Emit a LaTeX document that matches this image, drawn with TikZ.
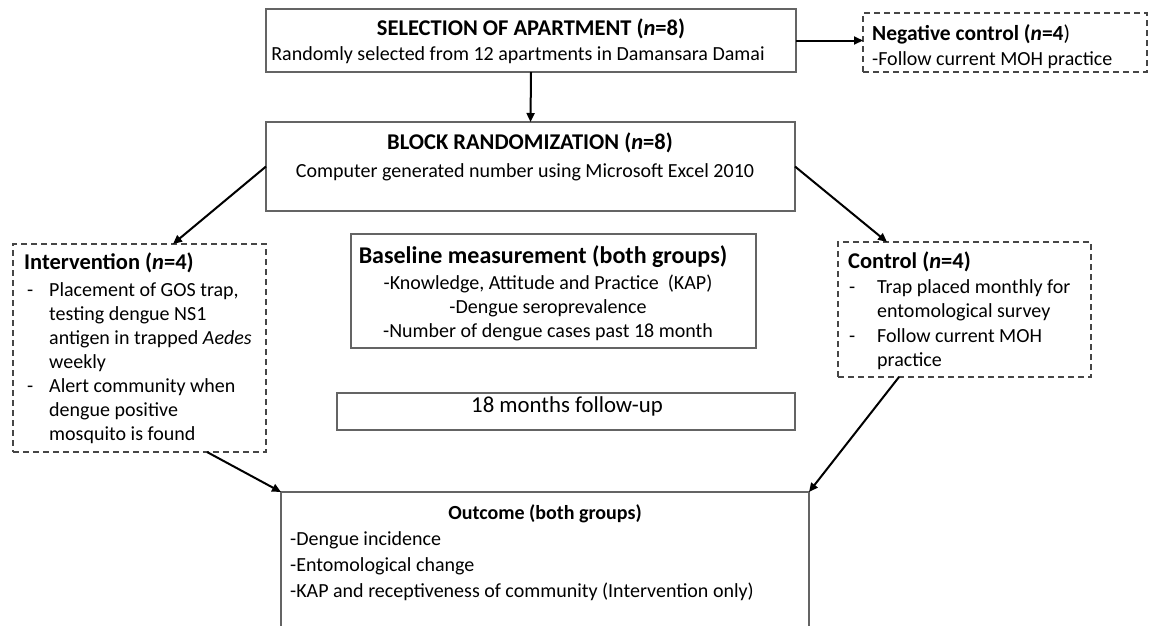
\documentclass[tikz,border=0pt]{standalone}
\usepackage{fontspec}
\setmainfont{Carlito}
\usetikzlibrary{fit,arrows.meta,calc}
\definecolor{boxgray}{RGB}{100,100,100}
\definecolor{dashgray}{RGB}{70,70,70}
\tikzset{
  box/.style={draw=boxgray, line width=1.2pt, inner sep=0pt, outer sep=0pt},
  dbox/.style={box, draw=dashgray, dash pattern=on 6pt off 4pt},
  arr/.style={line width=2pt, -{Triangle[length=9pt,width=8pt]}},
  tx/.style={inner sep=0pt, font=\fontsize{20}{24}\selectfont},
  hd/.style={inner sep=0pt, font=\fontsize{22.5}{27}\selectfont\bfseries},
}
\begin{document}
\begin{tikzpicture}[x=1pt,y=-1pt]
\useasboundingbox (0,0) rectangle (1157,625);
\fill[white] (0,0) rectangle (1157,625);
\clip (0,0) rectangle (1157,625);

% boxes
\node[box,  fit={(266,9) (796,72)}]    (sel)  {};
\node[dbox, fit={(863,13) (1147,72)}]  (neg)  {};
\node[box,  fit={(266,122) (795,211)}] (blk)  {};
\node[box,  fit={(351,234) (756,348)}] (base) {};
\node[box,  fit={(337,393) (795,430)}] (fu)   {};
\node[dbox, fit={(13,244) (266,452)}]  (int)  {};
\node[dbox, fit={(838,242) (1091,377)}] (ctl) {};
\node[box,  fit={(281,492) (809,680)}] (out)  {};

% selection
\node[hd, anchor=base] (selH) at (531,35) {SELECTION OF APARTMENT (\textit{n}=8)};
\node[tx, anchor=base] (selT) at (518,60) {Randomly selected from 12 apartments in Damansara Damai};

% negative control
\node[hd, font=\fontsize{21.5}{26}\selectfont\bfseries, anchor=base west] (negH) at (872,40) {Negative control (\textit{n}=4{\mdseries)}};
\node[tx, anchor=base west] (negT) at (872,65) {-Follow current MOH practice};

% block randomization
\node[hd, anchor=base] (blkH) at (530,149) {BLOCK RANDOMIZATION (\textit{n}=8)};
\node[tx, anchor=base] (blkT) at (525,177) {Computer generated number using Microsoft Excel 2010};

% baseline
\node[hd, font=\fontsize{24}{28}\selectfont\bfseries, anchor=base] (baseH) at (543,263) {Baseline measurement (both groups)};
\node[tx, anchor=base] (b1) at (548,289) {-Knowledge, Attitude and Practice\ \ (KAP)};
\node[tx, anchor=base] (b2) at (548,313) {-Dengue seroprevalence};
\node[tx, anchor=base] (b3) at (548,337) {-Number of dengue cases past 18 month};

% follow-up
\node[tx, font=\fontsize{22.8}{26}\selectfont, anchor=base] (fuT) at (567,412) {18 months follow-up};

% intervention
\node[hd, anchor=base west] (intH) at (24,269) {Intervention (\textit{n}=4)};
\node[tx, anchor=base west] (i1d) at (27,296) {-};
\node[tx, anchor=base west] (i1) at (49,296) {Placement of GOS trap,};
\node[tx, anchor=base west] (i2) at (49,320) {testing dengue NS1};
\node[tx, anchor=base west] (i3) at (49,344) {antigen in trapped \textit{Aedes}};
\node[tx, anchor=base west] (i4) at (49,368) {weekly};
\node[tx, anchor=base west] (i5d) at (27,392) {-};
\node[tx, anchor=base west] (i5) at (49,392) {Alert community when};
\node[tx, anchor=base west] (i6) at (49,416) {dengue positive};
\node[tx, anchor=base west] (i7) at (49,440) {mosquito is found};

% control
\node[hd, anchor=base west] (ctlH) at (848,268) {Control (\textit{n}=4)};
\node[tx, anchor=base west] (c1d) at (849,293) {-};
\node[tx, anchor=base west] (c1) at (877,293) {Trap placed monthly for};
\node[tx, anchor=base west] (c2) at (877,317) {entomological survey};
\node[tx, anchor=base west] (c3d) at (849,342) {-};
\node[tx, anchor=base west] (c3) at (877,342) {Follow current MOH};
\node[tx, anchor=base west] (c4) at (877,366) {practice};

% outcome
\node[hd, font=\fontsize{20}{24}\selectfont\bfseries, anchor=base] (outH) at (545,519) {Outcome (both groups)};
\node[tx, anchor=base west] (o1) at (290,545) {-Dengue incidence};
\node[tx, anchor=base west] (o2) at (290,571) {-Entomological change};
\node[tx, anchor=base west] (o3) at (290,597) {-KAP and receptiveness of community (Intervention only)};

% connectors
\draw[arr] (sel.east) -- (sel.east -| neg.west);
\draw[arr] (sel.south) -- (blk.north);
\draw[arr] (blk.west) -- ([xshift=33.5pt]int.north);
\draw[arr] (blk.east) -- ([xshift=-77.5pt]ctl.north);
\draw[arr] ([xshift=67.5pt]int.south) -- (out.north west);
\draw[arr] ([xshift=-65.5pt]ctl.south) -- (out.north east);
\end{tikzpicture}
\end{document}
